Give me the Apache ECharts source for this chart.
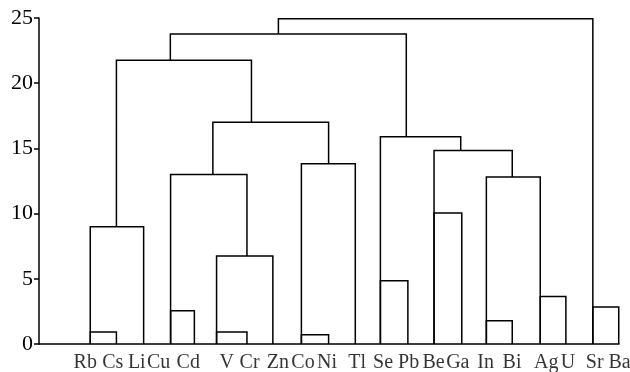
<!DOCTYPE html>
<html>
<head>
<meta charset="utf-8">
<script src="https://cdn.jsdelivr.net/npm/echarts@6/dist/echarts.min.js"></script>
<style>
  html, body { margin: 0; padding: 0; background: #fff; }
  #chart { width: 630px; height: 372px; }
</style>
</head>
<body>
<div id="chart"></div>
<script>
// 元素名称（叶节点）
const names = ['Rb', 'Cs', 'Li', 'Cu', 'Cd', 'V', 'Cr', 'Zn', 'Co', 'Ni', 'Tl',
    'Se', 'Pb', 'Be', 'Ga', 'In', 'Bi', 'Ag', 'U', 'Sr', 'Ba'];
// 标签在横轴上的位置
const labelX = [1.75, 2.79, 3.70, 4.53, 5.65, 7.10, 7.97, 9.04, 9.99, 10.90, 12.04,
    13.02, 13.99, 14.93, 15.85, 16.90, 17.90, 19.20, 20.02, 21.03, 21.97];
// 每次合并: 左腿x, 右腿x, 合并高度, 左腿起点, 右腿起点
const mergeLeft   = [1.94, 1.94, 4.98, 6.72, 6.72, 4.98, 9.93, 9.93, 6.58, 2.93,
    12.92, 14.95, 16.93, 18.97, 16.93, 14.95, 12.92, 4.97, 20.96, 9.06];
const mergeRight  = [2.93, 3.96, 5.88, 7.87, 8.85, 7.87, 10.96, 11.97, 10.96, 8.04,
    13.96, 16.00, 17.91, 19.94, 18.97, 17.91, 15.96, 13.90, 21.94, 20.96];
const mergeHeight = [0.92, 9.0, 2.55, 0.92, 6.74, 13.0, 0.71, 13.82, 17.0, 21.76,
    4.85, 10.04, 1.79, 3.65, 12.8, 14.84, 15.89, 23.78, 2.84, 24.95];
const leftBase    = [0, 0, 0, 0, 0, 0, 0, 0, 13.0, 9.0,
    0, 0, 0, 0, 0, 0, 0, 21.76, 0, 23.78];
const rightBase   = [0, 0, 0, 0, 0, 6.74, 0, 0, 13.82, 17.0,
    0, 0, 0, 0, 0, 12.8, 14.84, 15.89, 0, 0];
// 纵轴刻度
const yTicks = [0, 5, 10, 15, 20, 25];

const font = '"Liberation Serif", "DejaVu Serif", serif';

const mergeData = mergeLeft.map((l, i) =>
    [l, mergeRight[i], mergeHeight[i], leftBase[i], rightBase[i]]);

const chart = echarts.init(document.getElementById('chart'));
chart.setOption({
    animation: false,
    grid: { left: 39, right: 11, top: 18, bottom: 28, containLabel: false, outerBoundsMode: 'none' },
    xAxis: {
        type: 'value', min: 0, max: 21.95,
        axisLine: { show: true, onZero: false, lineStyle: { color: '#000', width: 1.5 } },
        axisTick: { show: false },
        axisLabel: { show: false },
        splitLine: { show: false }
    },
    yAxis: {
        type: 'value', min: yTicks[0], max: yTicks[yTicks.length - 1], interval: 5,
        axisLine: { show: true, lineStyle: { color: '#000', width: 1.5 } },
        axisTick: { show: true, length: 5, lineStyle: { color: '#000', width: 1.5 } },
        axisLabel: { margin: 6, color: '#000', fontSize: 22, fontFamily: font },
        splitLine: { show: false }
    },
    series: [
        {
            type: 'custom',
            silent: true,
            clip: false,
            data: mergeData,
            encode: { x: [0, 1], y: [2, 3, 4] },
            renderItem: function (params, api) {
                const l = api.value(0), r = api.value(1), h = api.value(2);
                const lb = api.value(3), rb = api.value(4);
                return {
                    type: 'polyline',
                    shape: { points: [api.coord([l, lb]), api.coord([l, h]), api.coord([r, h]), api.coord([r, rb])] },
                    style: { stroke: '#000', lineWidth: 1.5, fill: null }
                };
            }
        },
        {
            type: 'scatter',
            silent: true,
            clip: false,
            symbolSize: 0,
            data: names.map((n, i) => ({ name: n, value: [labelX[i], 0] })),
            label: {
                show: true, position: 'bottom', distance: 9,
                formatter: '{b}', color: '#000', fontSize: 20, fontFamily: font
            }
        }
    ]
});
</script>
</body>
</html>
